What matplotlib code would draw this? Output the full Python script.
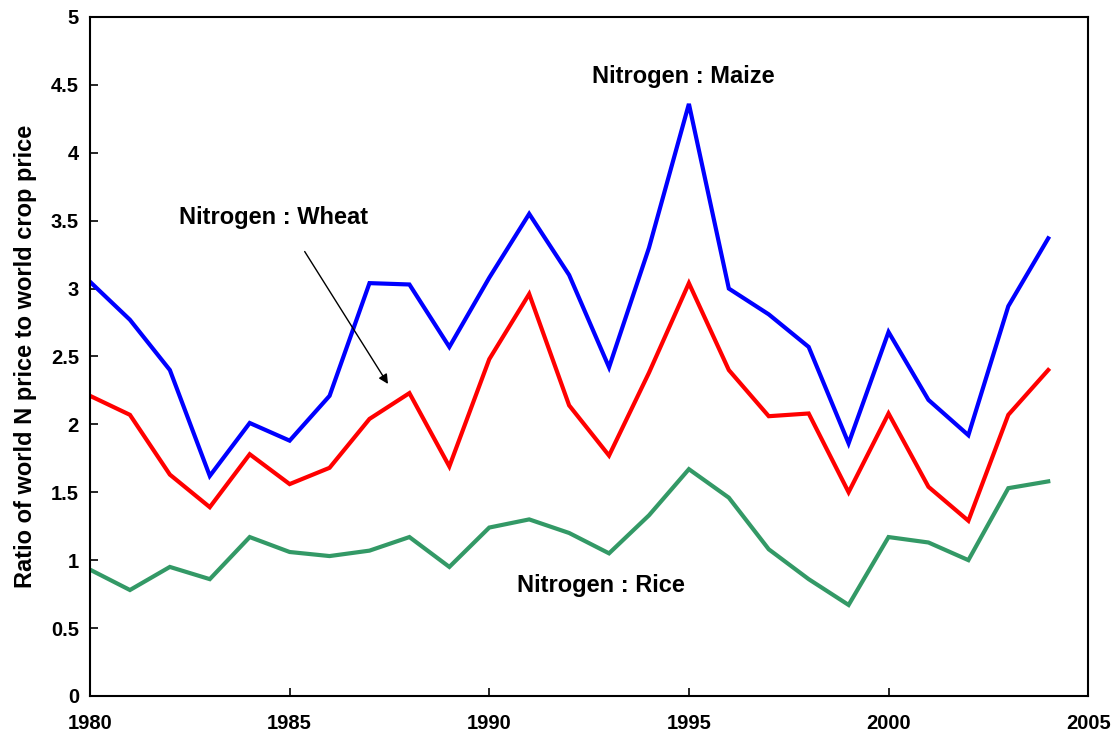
import numpy as np
import matplotlib
matplotlib.use("Agg")
import matplotlib.pyplot as plt

plt.rcParams["font.family"] = ["Liberation Sans", "DejaVu Sans"]
plt.rcParams["font.weight"] = "bold"

# ── Data ──────────────────────────────────────────────────────────────────────
years = list(range(1980, 2005))
maize = [3.05, 2.77, 2.40, 1.62, 2.01, 1.88, 2.21, 3.04, 3.03, 2.57,
         3.08, 3.55, 3.10, 2.42, 3.30, 4.36, 3.00, 2.81, 2.57, 1.86,
         2.68, 2.18, 1.92, 2.87, 3.37]
wheat = [2.21, 2.07, 1.63, 1.39, 1.78, 1.56, 1.68, 2.04, 2.23, 1.69,
         2.48, 2.96, 2.14, 1.77, 2.38, 3.04, 2.40, 2.06, 2.08, 1.50,
         2.08, 1.54, 1.29, 2.07, 2.40]
rice = [0.93, 0.78, 0.95, 0.86, 1.17, 1.06, 1.03, 1.07, 1.17, 0.95,
        1.24, 1.30, 1.20, 1.05, 1.33, 1.67, 1.46, 1.08, 0.86, 0.67,
        1.17, 1.13, 1.00, 1.53, 1.58]

# ── Figure ────────────────────────────────────────────────────────────────────
fig = plt.figure(figsize=(11.14, 7.38), dpi=100)
ax = fig.add_axes([0.0808, 0.057, 0.896, 0.920])

ax.plot(years, maize, color="#0000ff", lw=3.0, solid_joinstyle="miter")
ax.plot(years, wheat, color="#ff0000", lw=3.0, solid_joinstyle="miter")
ax.plot(years, rice, color="#339966", lw=3.0, solid_joinstyle="miter")

ax.set_xlim(1980, 2005)
ax.set_ylim(0, 5)
ax.set_xticks(np.arange(1980, 2006, 5))
ax.set_yticks(np.arange(0, 5.01, 0.5))
ax.set_yticklabels(["0", "0.5", "1", "1.5", "2", "2.5", "3", "3.5", "4", "4.5", "5"])
ax.tick_params(direction="in", length=6, width=1.2, labelsize=14.5, pad=8)
ax.tick_params(axis="x", pad=13)
for lab in ax.get_xticklabels() + ax.get_yticklabels():
    lab.set_fontweight("bold")
for sp in ax.spines.values():
    sp.set_linewidth(1.5)

ax.set_ylabel("Ratio of world N price to world crop price", fontsize=17,
              fontweight="bold", labelpad=10)

ax.text(1994.85, 4.56, "Nitrogen : Maize", ha="center", va="center",
        fontsize=17, fontweight="bold")
ax.text(1984.6, 3.52, "Nitrogen : Wheat", ha="center", va="center",
        fontsize=17, fontweight="bold")
ax.text(1992.8, 0.81, "Nitrogen : Rice", ha="center", va="center",
        fontsize=17, fontweight="bold")
ax.annotate("", xy=(1987.5, 2.28), xytext=(1985.34, 3.29),
            arrowprops=dict(arrowstyle="-|>", color="black", lw=1.0,
                            mutation_scale=14))

fig.savefig("out.png", dpi=100)
